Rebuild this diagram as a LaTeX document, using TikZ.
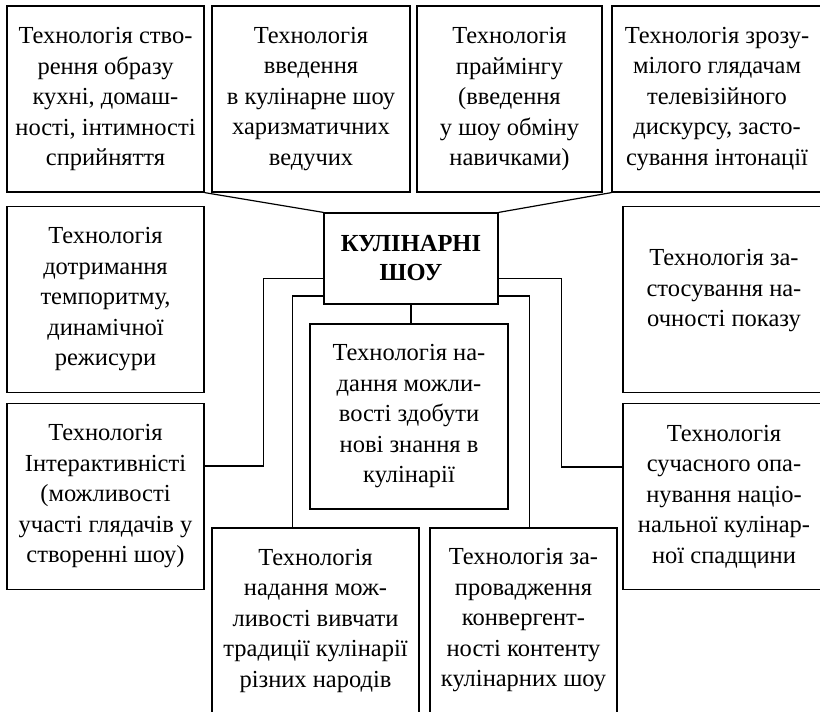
\documentclass[tikz,border=0pt]{standalone}
\usepackage{fontspec}
\setmainfont{Liberation Serif}
\usetikzlibrary{calc}
\tikzset{
  box/.style={draw, line width=1.2pt, align=center, inner sep=1pt,
    font=\fontsize{24.5}{30.5}\selectfont, minimum height=186pt},
  link/.style={draw, line width=1.2pt}
}
\begin{document}
\begin{tikzpicture}[x=1pt,y=-1pt]
\useasboundingbox (0,0) rectangle (820,712);
\clip (0,0) rectangle (820,712);
% top row
\node[box, minimum width=197pt] (b1) at (105.5,99) {Технологія ство-\\рення образу\\кухні, домаш-\\ності, інтимності\\сприйняття};
\node[box, minimum width=198pt] (b2) at (311,99) {Технологія\\введення\\в кулінарне шоу\\харизматичних\\ведучих};
\node[box, minimum width=185pt] (b3) at (509.5,99) {Технологія\\праймінгу\\(введення\\у шоу обміну\\навичками)};
\node[box, minimum width=210pt] (b4) at (717,99) {Технологія зрозу-\\мілого глядачам\\телевізійного\\дискурсу, засто-\\сування інтонації};
% left column
\node[box, minimum width=197pt] (l1) at (105.5,299.5) {Технологія\\дотримання\\темпоритму,\\динамічної\\режисури};
\node[box, minimum width=197pt] (l2) at (105.5,496.5) {Технологія\\Інтерактивністі\\(можливості\\участі глядачів у\\створенні шоу)};
% right column
\node[box, minimum width=202pt] (r1) at (724,299.5) {Технологія за-\\стосування на-\\очності показу\\[-8pt]\mbox{}};
\node[box, minimum width=202pt] (r2) at (724,496.5) {Технологія\\сучасного опа-\\нування націо-\\нальної кулінар-\\ної спадщини};
% centre
\node[box, minimum width=174pt, minimum height=91pt, font=\fontsize{24.5}{29}\selectfont\bfseries] (c) at (411,258.5) {КУЛІНАРНІ\\ШОУ};
\node[box, minimum width=198pt, minimum height=185pt] (m) at (409,416.5) {Технологія на-\\дання можли-\\вості здобути\\нові знання в\\кулінарії};
% bottom row
\node[box, minimum width=207pt, minimum height=185pt] (bl) at (315.5,620.5) {Технологія\\надання мож-\\ливості вивчати\\традиції кулінарії\\різних народів};
\node[box, minimum width=187pt, minimum height=185pt] (br) at (523.5,620.5) {Технологія за-\\провадження\\конвергент-\\ності контенту\\кулінарних шоу};
% connectors
\draw[link] (b1.south east) -- (c.north west);
\draw[link] ($(c.north west)+(28,0)$) -- ($(c.north west)+(28,0)$ |- b2.south);
\draw[link] ($(c.north east)+(-30,0)$) -- ($(c.north east)+(-30,0)$ |- b3.south);
\draw[link] (b4.south west) -- (c.north east);
\draw[link] ($(c.north west)+(0,37)$) -- ($(c.north west)+(0,37)$ -| l1.east);
\draw[link] ($(c.north east)+(0,37)$) -- ($(c.north east)+(0,37)$ -| r1.west);
\coordinate (lk) at ($(c.north west)+(-60,66)$);
\draw[link] ($(c.north west)+(0,66)$) -- (lk) -- (lk |- {$(l2.north east)+(0,63)$}) -- ($(l2.north east)+(0,63)$);
\coordinate (rk) at ($(c.north east)+(63,66)$);
\draw[link] ($(c.north east)+(0,66)$) -- (rk) -- (rk |- {$(r2.north west)+(0,64)$}) -- ($(r2.north west)+(0,64)$);
\coordinate (lb) at ($(c.north west)+(-31,83.5)$);
\draw[link] ($(c.north west)+(0,83.5)$) -- (lb) -- (lb |- bl.north);
\coordinate (rb) at ($(c.north east)+(31,83.5)$);
\draw[link] ($(c.north east)+(0,83.5)$) -- (rb) -- (rb |- br.north);
\draw[link] (c.south) -- (c.south |- m.north);
\end{tikzpicture}
\end{document}
